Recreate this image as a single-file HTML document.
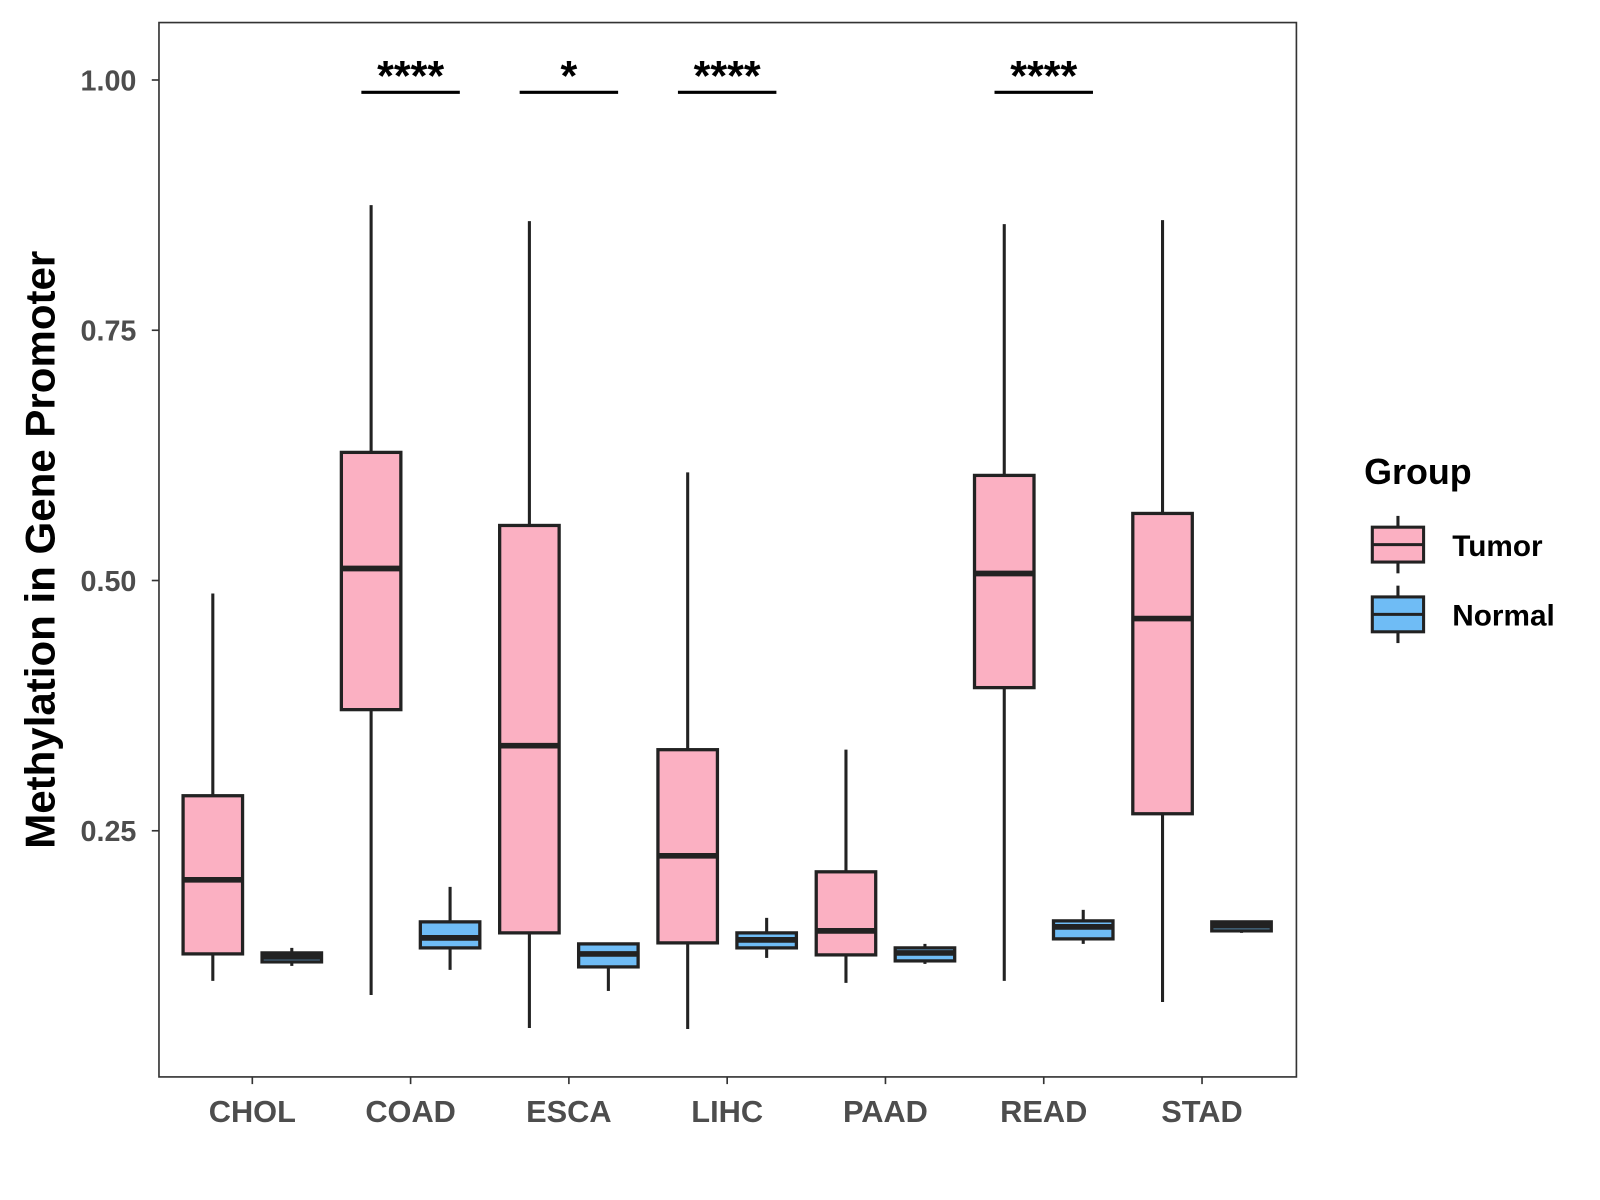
<!DOCTYPE html>
<html><head><meta charset="utf-8"><style>html,body{margin:0;padding:0;background:#fff}svg{display:block}</style></head>
<body>
<svg id="chart" width="1600" height="1200" viewBox="0 0 1560 1170" xmlns="http://www.w3.org/2000/svg" font-family="Liberation Sans, Arial, sans-serif">
<rect x="155" y="22" width="1109" height="1028" fill="#fff" stroke="#333" stroke-width="1.6"/>
<g id="marks"></g>
<text transform="translate(53,536) rotate(-90)" text-anchor="middle" font-size="41" font-weight="bold" fill="#000">Methylation in Gene Promoter</text>
<g>
<text x="1330" y="472" font-size="35" font-weight="bold">Group</text>
<line x1="1363" y1="503" x2="1363" y2="559" stroke="#222" stroke-width="3"/>
<rect x="1338" y="514" width="50" height="34" fill="#fbb0c2" stroke="#222" stroke-width="3"/>
<line x1="1338" y1="531" x2="1388" y2="531" stroke="#222" stroke-width="3"/>
<text x="1416" y="542" font-size="29" font-weight="bold">Tumor</text>
<line x1="1363" y1="571" x2="1363" y2="627" stroke="#222" stroke-width="3"/>
<rect x="1338" y="582" width="50" height="34" fill="#6fbcf5" stroke="#222" stroke-width="3"/>
<line x1="1338" y1="599" x2="1388" y2="599" stroke="#222" stroke-width="3"/>
<text x="1416" y="610" font-size="29" font-weight="bold">Normal</text>
</g>
</svg>
<script>
const categories = ["CHOL","COAD","ESCA","LIHC","PAAD","READ","STAD"];
// [low, q1, median, q3, high]
const tumorStats = [
 [0.100,0.127,0.201,0.285,0.487],
 [0.086,0.371,0.512,0.628,0.875],
 [0.053,0.148,0.335,0.555,0.859],
 [0.052,0.138,0.225,0.331,0.608],
 [0.098,0.126,0.150,0.209,0.331],
 [0.100,0.393,0.507,0.605,0.856],
 [0.079,0.267,0.462,0.567,0.860]];
const normalStats = [
 [0.115,0.119,0.124,0.128,0.133],
 [0.111,0.133,0.143,0.159,0.194],
 [0.090,0.114,0.127,0.137,0.137],
 [0.123,0.133,0.141,0.148,0.163],
 [0.117,0.120,0.128,0.133,0.137],
 [0.137,0.142,0.154,0.160,0.171],
 [0.148,0.150,0.155,0.159,0.160]];
const significance = ["","****","*","****","","****",""];
const yTicks = [0.25,0.50,0.75,1.00];
const yTickLabels = ["0.25","0.50","0.75","1.00"];

const NS="http://www.w3.org/2000/svg";
const g=document.getElementById('marks');
const yScale=v=>78+(1-v)*976;
const xScale=i=>246+i*154.33;
function mk(tag,attrs){const e=document.createElementNS(NS,tag);for(const k in attrs)e.setAttribute(k,attrs[k]);g.appendChild(e);return e;}
yTicks.forEach((t,i)=>{
 const y=yScale(t);
 const tk=mk('line',{x1:148,x2:155,y1:y,y2:y,stroke:'#333','stroke-width':1.6});
 
 
 const tx=mk('text',{x:133,y:y+10,'text-anchor':'end','font-size':28,'font-weight':'bold',fill:'#4d4d4d'});
 tx.textContent=yTickLabels[i];
 
 
});
function box(cx,s,fill,name){
 const w=58;
 const wl=mk('line',{x1:cx,x2:cx,y1:yScale(s[4]),y2:yScale(s[0]),stroke:'#222','stroke-width':3});
 
 
 const r=mk('rect',{x:cx-w/2,y:yScale(s[3]),width:w,height:Math.max(yScale(s[1])-yScale(s[3]),1),fill:fill,stroke:'#222','stroke-width':3.2});
 
 
 const m=mk('line',{x1:cx-w/2,x2:cx+w/2,y1:yScale(s[2]),y2:yScale(s[2]),stroke:'#222','stroke-width':5.5});
 
 
}
categories.forEach((c,i)=>{
 const cx=xScale(i);
 box(cx-38.5,tumorStats[i],'#fbb0c2','tumor-'+c.toLowerCase());
 box(cx+38.5,normalStats[i],'#6fbcf5','normal-'+c.toLowerCase());
 const tk=mk('line',{x1:cx,x2:cx,y1:1050,y2:1057,stroke:'#333','stroke-width':1.6});
 
 
 const tx=mk('text',{x:cx,y:1094,'text-anchor':'middle','font-size':30,'font-weight':'bold',fill:'#4d4d4d'});
 tx.textContent=c;
 
 
 if(significance[i]){
  const b=mk('line',{x1:cx-48,x2:cx+48,y1:90,y2:90,stroke:'#000','stroke-width':3});
  
  
  const st=mk('text',{x:cx,y:88,'text-anchor':'middle','font-size':42,'font-weight':'bold',fill:'#000'});
  st.textContent=significance[i];
  
  
 }
});
</script>
</body></html>
